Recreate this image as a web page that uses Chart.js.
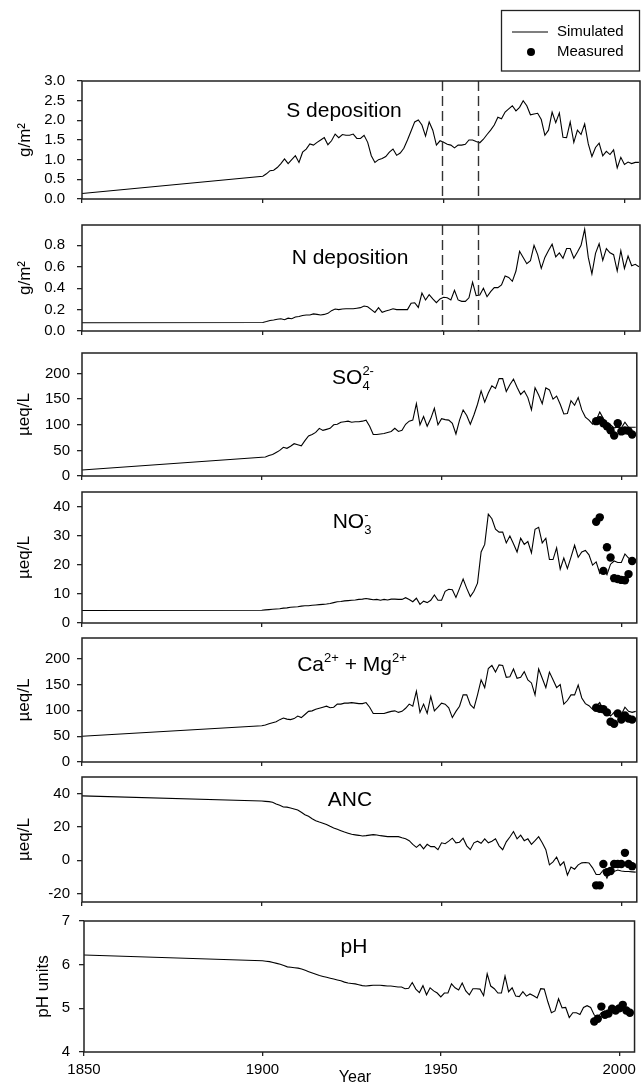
<!DOCTYPE html>
<html>
<head>
<meta charset="utf-8">
<script src="https://cdn.jsdelivr.net/npm/chart.js@4.4.1/dist/chart.umd.min.js"></script>
<style>
  html, body { margin: 0; padding: 0; background: #fff; }
  #wrap { position: relative; width: 641px; height: 1084px; overflow: hidden; }
  #wrap canvas { position: absolute; left: 0; }
</style>
</head>
<body>
<div id="wrap"></div>
<script>
// simulated series: 1850, then one value per year 1900-2004
const simYears = [1850];
for (let y = 1900; y <= 2004; y++) simYears.push(y);
const measYears = [1993, 1994, 1995, 1996, 1997, 1998, 1999, 2000, 2001, 2002, 2003];
const markYears = [1949.5, 1959.5];

const sDep = [0.14,
  0.58, 0.64, 0.72, 0.73, 0.80, 0.90, 1.02, 0.90, 1.00, 1.10,
  0.93, 1.19, 1.27, 1.40, 1.37, 1.44, 1.50, 1.56, 1.38, 1.48,
  1.65, 1.56, 1.64, 1.62, 1.62, 1.65, 1.54, 1.54, 1.62, 1.44,
  1.10, 0.93, 1.00, 1.03, 1.08, 1.19, 1.27, 1.11, 1.17, 1.29,
  1.50, 1.73, 1.96, 2.01, 1.88, 1.60, 1.96, 1.75, 1.37, 1.48,
  1.44, 1.39, 1.37, 1.30, 1.37, 1.37, 1.39, 1.50, 1.50, 1.46,
  1.43, 1.52, 1.64, 1.75, 1.88, 2.08, 2.04, 2.21, 2.29, 2.37,
  2.24, 2.33, 2.50, 2.37, 2.14, 2.16, 2.18, 2.02, 1.62, 1.75,
  2.21, 1.94, 2.19, 1.57, 1.56, 1.96, 1.44, 1.75, 1.64, 1.91,
  1.40, 1.08, 1.31, 1.42, 1.10, 1.21, 1.13, 1.25, 0.79, 1.06,
  0.88, 0.94, 0.90, 0.93, 0.93];

const nDep = [0.077,
  0.080, 0.088, 0.098, 0.103, 0.110, 0.115, 0.105, 0.120, 0.115, 0.130,
  0.135, 0.145, 0.150, 0.150, 0.160, 0.155, 0.150, 0.155, 0.165, 0.190,
  0.205, 0.200, 0.205, 0.208, 0.208, 0.208, 0.213, 0.218, 0.233, 0.226,
  0.200, 0.174, 0.218, 0.174, 0.187, 0.197, 0.208, 0.200, 0.200, 0.200,
  0.200, 0.260, 0.264, 0.220, 0.354, 0.290, 0.340, 0.300, 0.264, 0.300,
  0.315, 0.310, 0.290, 0.380, 0.290, 0.277, 0.277, 0.310, 0.456, 0.330,
  0.336, 0.400, 0.320, 0.367, 0.405, 0.405, 0.430, 0.513, 0.500, 0.464,
  0.560, 0.744, 0.687, 0.628, 0.656, 0.800, 0.713, 0.585, 0.687, 0.751,
  0.810, 0.692, 0.730, 0.680, 0.770, 0.770, 0.680, 0.738, 0.800, 0.950,
  0.687, 0.533, 0.725, 0.815, 0.660, 0.770, 0.730, 0.713, 0.560, 0.750,
  0.585, 0.700, 0.610, 0.623, 0.600];

const so4 = [11.8,
  36.5, 37, 40, 42, 46, 50, 56, 54, 58, 63,
  61, 59, 69, 78, 81, 85, 93, 89, 91, 93,
  100, 101, 105, 106, 107, 105, 106, 106, 107, 109,
  97, 81, 81, 82, 83, 85, 87, 93, 87, 89,
  101, 107, 109, 141, 100, 116, 97, 112, 132, 100,
  112, 110, 109, 103, 82, 109, 129, 118, 101, 119,
  140, 166, 144, 162, 176, 171, 190, 190, 165, 178,
  189, 173, 159, 166, 153, 129, 172, 158, 141, 172,
  168, 150, 156, 140, 121, 122, 147, 138, 153, 129,
  115, 109, 101, 109, 125, 112, 101, 100, 94, 95,
  94, 105, 95, 95, 95];
const so4Meas = [107, 109, 103, 97, 89, 79, 103, 87, 89, 88, 81];

const no3 = [4.3,
  4.4, 4.5, 4.6, 4.7, 4.8, 4.9, 5.1, 5.2, 5.4, 5.5,
  5.6, 5.8, 5.9, 5.9, 6.1, 6.2, 6.3, 6.4, 6.5, 6.7,
  7.0, 7.3, 7.4, 7.6, 7.7, 7.8, 7.9, 8.1, 8.2, 8.4,
  8.2, 8.0, 8.1, 7.8, 8.1, 7.9, 8.2, 8.2, 8.1, 8.1,
  8.7, 8.1, 7.3, 8.5, 6.4, 7.5, 7.0, 7.8, 9.6, 7.8,
  7.8, 10.9, 11.6, 11.4, 8.8, 11.9, 15.1, 11.9, 9.1, 10.9,
  13.7, 24.4, 27.0, 37.4, 35.8, 32.2, 31.2, 31.2, 27.5, 29.9,
  27.2, 24.4, 29.1, 27.0, 28.0, 24.1, 32.2, 32.9, 27.5, 29.1,
  21.8, 21.8, 25.8, 18.5, 22.3, 18.7, 22.6, 26.7, 22.6, 24.4,
  24.9, 23.4, 19.9, 21.0, 17.1, 18.7, 16.6, 20.2, 21.3, 20.8,
  20.8, 23.7, 22.3, 21.8, 21.6];
const no3Meas = [34.8, 36.3, 17.9, 26.0, 22.5, 15.4, 15.1, 14.8, 14.7, 16.8, 21.3];

const caMg = [49.7,
  70.2, 71.5, 74, 76, 78, 82, 85, 83, 82, 84,
  89, 86, 92, 98, 99, 102, 104, 106, 108, 105,
  106, 112, 112, 114, 114, 115, 114, 113, 113, 115,
  106, 94, 94, 94, 94, 96, 98, 99, 96, 98,
  104, 112, 108, 137, 96, 112, 94, 127, 99, 106,
  114, 112, 105, 86, 98, 108, 130, 130, 111, 104,
  130, 159, 144, 181, 187, 174, 188, 187, 164, 165,
  180, 162, 164, 175, 159, 153, 130, 180, 162, 144,
  174, 159, 144, 150, 112, 119, 130, 130, 149, 124,
  113, 109, 102, 108, 115, 99, 95, 89, 96, 89,
  92, 106, 98, 96, 98];
const caMgMeas = [105, 103, 102, 96, 78, 74, 94, 82, 90, 84, 82];

const anc = [38.7,
  35.6, 35.4, 35.2, 34.8, 33.8, 33.0, 32.0, 31.9, 31.4, 30.8,
  30.2, 28.8, 27.4, 26.4, 25.0, 23.8, 23.0, 22.3, 21.5, 20.4,
  19.4, 18.6, 17.8, 17.0, 16.3, 15.6, 15.3, 15.0, 14.6, 14.8,
  15.1, 15.4, 15.2, 14.8, 14.5, 14.2, 14.2, 14.2, 14.2, 13.5,
  12.9, 11.8, 9.6, 7.8, 9.6, 6.9, 9.6, 8.2, 8.2, 6.4,
  10.5, 10.0, 11.5, 13.3, 10.5, 10.9, 13.3, 8.7, 6.4, 10.5,
  11.5, 10.2, 12.9, 10.5, 11.5, 12.9, 8.7, 6.4, 11.1, 14.0,
  17.3, 12.9, 15.1, 11.8, 12.9, 9.6, 11.8, 14.2, 10.5, 6.4,
  -2.7, -0.9, 2.0, -3.1, -0.9, -8.9, -4.0, -5.3, -2.7, -1.5,
  -1.3, -1.6, -4.5, -8.5, -8.5, -5.8, -10.7, -5.3, -6.7, -5.8,
  -6.4, -6.7, -6.7, -6.9, -7.1];
const ancMeas = [-15, -15, -2.2, -7.1, -6.4, -2.2, -2.2, -2.2, 4.5, -2.2, -3.5];

const ph = [6.22,
  6.09, 6.08, 6.07, 6.05, 6.03, 6.01, 5.98, 5.95, 5.94, 5.93,
  5.92, 5.90, 5.87, 5.84, 5.81, 5.78, 5.75, 5.73, 5.71, 5.69,
  5.67, 5.65, 5.63, 5.60, 5.58, 5.57, 5.56, 5.54, 5.52, 5.51,
  5.52, 5.53, 5.53, 5.53, 5.52, 5.51, 5.51, 5.50, 5.49, 5.49,
  5.45, 5.46, 5.59, 5.44, 5.36, 5.52, 5.31, 5.47, 5.40, 5.35,
  5.26, 5.35, 5.35, 5.56, 5.47, 5.42, 5.58, 5.40, 5.31, 5.45,
  5.45, 5.44, 5.29, 5.79, 5.51, 5.45, 5.35, 5.35, 5.74, 5.38,
  5.47, 5.28, 5.27, 5.38, 5.28, 5.33, 5.29, 5.24, 5.45, 5.44,
  5.15, 4.90, 4.94, 5.22, 5.01, 5.02, 4.79, 4.90, 4.90, 4.86,
  5.02, 5.06, 5.02, 4.85, 4.79, 4.90, 4.94, 4.90, 5.01, 5.00,
  4.95, 4.96, 4.97, 4.90, 4.90];
const phMeas = [4.70, 4.76, 5.04, 4.85, 4.88, 4.99, 4.95, 5.00, 5.08, 4.95, 4.90];

const FONT = '"Liberation Sans", Arial, Helvetica, sans-serif';
Chart.defaults.font.family = FONT;
Chart.defaults.color = '#000';

// panel layout, top to bottom
const panels = [
  { sim: sDep, meas: null, canvasTop: 0, top: 81, bottom: 211, left: 82,
    min: 0, max: 3, step: 0.5, dec: 1, tickPad: 12, yTitle: 'g/m²', titlePad: 15,
    title: [['S deposition']], titleX: 344, titleDy: 36, marks: markYears, legend: true },
  { sim: nDep, meas: null, canvasTop: 204, top: 214, bottom: 343, left: 82,
    min: 0, max: 0.99, step: 0.2, dec: 1, tickPad: 12, yTitle: 'g/m²', titlePad: 15,
    title: [['N deposition']], titleX: 350, titleDy: 39, marks: markYears },
  { sim: so4, meas: so4Meas, canvasTop: 337, top: 347, bottom: 483, left: 82,
    min: 0, max: 240, step: 50, dec: 0, tickPad: 7, yTitle: 'µeq/L', titlePad: 14,
    title: [['SO'], ['4', 'sub'], ['2-', 'stack']], titleX: 353, titleDy: 31 },
  { sim: no3, meas: no3Meas, canvasTop: 476, top: 486, bottom: 630, left: 82,
    min: 0, max: 45, step: 10, dec: 0, tickPad: 7, yTitle: 'µeq/L', titlePad: 14,
    title: [['NO'], ['3', 'sub'], ['-', 'stack']], titleX: 352, titleDy: 36 },
  { sim: caMg, meas: caMgMeas, canvasTop: 622, top: 632, bottom: 769, left: 82,
    min: 0, max: 240, step: 50, dec: 0, tickPad: 7, yTitle: 'µeq/L', titlePad: 14,
    title: [['Ca'], ['2+', 'sup'], [' + Mg'], ['2+', 'sup']], titleX: 352, titleDy: 33 },
  { sim: anc, meas: ancMeas, canvasTop: 761, top: 771, bottom: 909, left: 82,
    min: -25, max: 50, step: 20, dec: 0, tickPad: 7, yTitle: 'µeq/L', titlePad: 14,
    title: [['ANC']], titleX: 350, titleDy: 29 },
  { sim: ph, meas: phMeas, canvasTop: 903, top: 913, bottom: 1052, left: 84,
    min: 4, max: 7, step: 1, dec: 0, tickPad: 9, yTitle: 'pH units', titlePad: 33,
    title: [['pH']], titleX: 354, titleDy: 32, xTitle: 'Year' }
];

function drawRich(ctx, segs, cx, baseY) {
  const big = '21px ' + FONT, small = '13px ' + FONT;
  let w = 0, last = 0;
  const items = [];
  segs.forEach(([t, k]) => {
    ctx.font = k ? small : big;
    const tw = ctx.measureText(t).width;
    let x;
    if (k === 'stack') { x = w - last; w = x + Math.max(last, tw); }
    else { x = w; w += tw; }
    items.push({ t, k, x });
    last = tw;
  });
  const x0 = cx - w / 2;
  ctx.textAlign = 'left';
  ctx.textBaseline = 'alphabetic';
  items.forEach(({ t, k, x }) => {
    ctx.font = k ? small : big;
    const dy = k === 'sub' ? 6 : (k ? -9 : 0);
    ctx.fillText(t, x0 + x, baseY + dy);
  });
}

const panelDecor = {
  id: 'panelDecor',
  afterDraw(chart, args, o) {
    const { ctx, chartArea: a, scales } = chart;
    ctx.save();
    if (o.marks) {
      ctx.setLineDash([10, 5]);
      ctx.lineWidth = 1.4;
      ctx.strokeStyle = '#333';
      o.marks.forEach(yr => {
        const x = Math.round(scales.x.getPixelForValue(yr)) + 0.5;
        ctx.beginPath(); ctx.moveTo(x, a.top); ctx.lineTo(x, a.bottom); ctx.stroke();
      });
      ctx.setLineDash([]);
    }
    ctx.lineWidth = 1.5;
    ctx.strokeStyle = '#222';
    ctx.strokeRect(a.left, a.top, a.right - a.left, a.bottom - a.top);
    ctx.fillStyle = '#000';
    drawRich(ctx, o.title, o.titleX, a.top + o.titleDy);
    if (o.xTitle) {
      ctx.font = '16px ' + FONT;
      ctx.textAlign = 'center';
      ctx.textBaseline = 'middle';
      ctx.fillText(o.xTitle, 355, a.bottom + 26);
    }
    if (o.legend) {
      ctx.lineWidth = 1.3;
      ctx.strokeStyle = '#222';
      ctx.strokeRect(501.5, 10.5, 138, 60.5);
      ctx.lineWidth = 1.2;
      ctx.strokeStyle = '#000';
      ctx.beginPath(); ctx.moveTo(512, 32); ctx.lineTo(548, 32); ctx.stroke();
      ctx.beginPath(); ctx.arc(531, 52, 4, 0, 2 * Math.PI); ctx.fill();
      ctx.font = '15px ' + FONT;
      ctx.textAlign = 'left';
      ctx.textBaseline = 'middle';
      ctx.fillText('Simulated', 557, 32);
      ctx.fillText('Measured', 557, 52);
    }
    ctx.restore();
  }
};

const wrap = document.getElementById('wrap');
panels.forEach((p, i) => {
  const lastPanel = i === panels.length - 1;
  const xh = lastPanel ? 32 : 9;
  const cv = document.createElement('canvas');
  cv.width = 641;
  cv.height = p.bottom - p.canvasTop + xh;
  cv.style.top = p.canvasTop + 'px';
  wrap.appendChild(cv);

  const datasets = [{
    data: simYears.map((x, j) => ({ x, y: p.sim[j] })),
    borderColor: '#000', borderWidth: 1.1, pointRadius: 0, tension: 0, fill: false
  }];
  if (p.meas) {
    datasets.push({
      data: measYears.map((x, j) => ({ x, y: p.meas[j] })),
      showLine: false, pointRadius: 4.2, pointBorderWidth: 0,
      backgroundColor: '#000', borderColor: '#000'
    });
  }

  new Chart(cv, {
    type: 'line',
    data: { datasets },
    options: {
      responsive: false,
      animation: false,
      events: [],
      layout: { padding: { top: p.top - p.canvasTop, right: 1, bottom: 0, left: 0 } },
      plugins: {
        legend: { display: false },
        tooltip: { enabled: false },
        panelDecor: {
          title: p.title, titleX: p.titleX, titleDy: p.titleDy,
          marks: p.marks, legend: p.legend, xTitle: p.xTitle
        }
      },
      scales: {
        x: {
          type: 'linear', min: 1850, max: 2004.3,
          afterFit: s => { s.height = xh; },
          border: { display: false },
          grid: { drawOnChartArea: false, drawTicks: true, tickLength: 4, color: '#222', lineWidth: 1.3 },
          ticks: {
            display: lastPanel, stepSize: 50, includeBounds: false, padding: 5,
            maxRotation: 0, font: { size: 15 }, callback: v => String(v)
          }
        },
        y: {
          min: p.min, max: p.max,
          afterFit: s => { s.width = p.left; },
          border: { display: false },
          grid: { drawOnChartArea: false, drawTicks: true, tickLength: 5, color: '#222', lineWidth: 1.3 },
          ticks: {
            stepSize: p.step, includeBounds: false, padding: p.tickPad,
            font: { size: 15 }, callback: v => v.toFixed(p.dec)
          },
          title: {
            display: true, text: p.yTitle, font: { size: 17 },
            padding: { top: p.titlePad, bottom: 0 }
          }
        }
      }
    },
    plugins: [panelDecor]
  });
});
</script>
</body>
</html>
